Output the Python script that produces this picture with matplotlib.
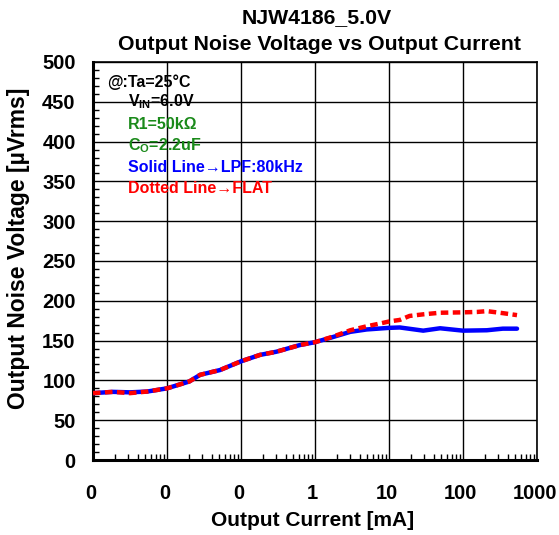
import matplotlib
matplotlib.use("Agg")
import matplotlib.pyplot as plt
import matplotlib.transforms as mtransforms
from matplotlib.ticker import FixedLocator, FixedFormatter, LogLocator, MultipleLocator, NullFormatter

plt.rcParams['font.family'] = ['Liberation Sans', 'DejaVu Sans']
plt.rcParams['font.weight'] = 'bold'
plt.rcParams['mathtext.fontset'] = 'custom'
plt.rcParams['mathtext.bf'] = 'Liberation Sans:bold'
plt.rcParams['mathtext.rm'] = 'Liberation Sans:bold'

# output current [mA]
lpf_current = [0.001, 0.00186, 0.00316, 0.0054, 0.01, 0.02, 0.028, 0.052, 0.1, 0.18,
               0.3, 0.63, 1.0, 1.75, 3.0, 5.0, 10, 14, 29, 49, 100, 210, 345, 537]
# noise with LPF 80kHz [uVrms]
lpf_noise = [84, 85.6, 85, 86, 90, 98.6, 107, 113, 124, 132,
             136, 144.5, 148, 154.5, 161, 164, 166, 166.5, 162.5, 165.5, 162.5, 163, 165, 165]

flat_current = [0.001, 0.00186, 0.00316, 0.0054, 0.01, 0.02, 0.028, 0.052, 0.1, 0.18,
                0.3, 0.63, 1.0, 1.75, 3.0, 5.0, 7.6, 10, 14, 19, 29, 49, 100, 155, 210, 345, 537]
# noise FLAT [uVrms]
flat_noise = [84, 85.6, 84, 86, 90, 98.6, 107, 113, 124, 132,
              136, 144.5, 148, 155, 163, 168, 171.5, 174, 176, 181, 183, 185, 185.5, 186, 187, 184.5, 182]

x_ticks = [0.001, 0.01, 0.1, 1, 10, 100, 1000]
x_tick_labels = ["0", "0", "0", "1", "10", "100", "1000"]

W, H = 559, 535
fig = plt.figure(figsize=(W / 100, H / 100), dpi=100)
ax = fig.add_axes([93 / W, 1 - 460 / H, 444 / W, 398 / H])

ax.plot(lpf_current, lpf_noise, color='#0000ff', lw=3.2, solid_capstyle='round', zorder=3)
ax.plot(flat_current, flat_noise, color='#ff0000', lw=3.2, linestyle=(0, (1.7, 1.0)), zorder=4)

ax.set_xscale('log')
ax.set_xlim(0.001, 1000)
ax.set_ylim(0, 500)
ax.xaxis.set_major_locator(FixedLocator(x_ticks))
ax.xaxis.set_major_formatter(FixedFormatter(x_tick_labels))
ax.xaxis.set_minor_locator(LogLocator(base=10, subs=range(2, 10)))
ax.xaxis.set_minor_formatter(NullFormatter())
ax.yaxis.set_major_locator(MultipleLocator(50))
ax.yaxis.set_minor_locator(MultipleLocator(10))

ax.grid(True, which='major', color='black', lw=1.0)
ax.tick_params(which='major', length=0, labelsize=14.5)
ax.tick_params(axis='y', which='major', pad=12.5)
ax.tick_params(axis='x', which='major', pad=17)
ax.tick_params(which='minor', direction='in', length=4, width=1, top=False, right=False)
shift = mtransforms.ScaledTranslation(-2.5 / 100, 0, fig.dpi_scale_trans)
for lab in ax.get_xticklabels():
    lab.set_fontweight('bold')
    lab.set_transform(lab.get_transform() + shift)
for lab in ax.get_yticklabels():
    lab.set_fontweight('bold')

ax.spines['left'].set_linewidth(2.2)
ax.spines['bottom'].set_linewidth(2.2)
ax.spines['top'].set_linewidth(1.2)
ax.spines['right'].set_linewidth(1.2)

fig.text(313 / W, 1 - 521 / H, "Output Current [mA]", fontsize=15, fontweight='bold',
         ha='center', va='center')
fig.text(19 / W, 1 - 248 / H, "Output Noise Voltage [µVrms]", fontsize=16.5, fontweight='bold',
         ha='center', va='center', rotation=90)
fig.text(317 / W, 1 - 18 / H, "NJW4186_5.0V", fontsize=15.3, fontweight='bold',
         ha='center', va='center')
fig.text(319 / W, 1 - 45 / H, "Output Noise Voltage vs Output Current", fontsize=15.3,
         fontweight='bold', ha='center', va='center')

ann = [
    ("@:Ta=25°C", 0.0315, 0.950, 'black'),
    (r"V$_\mathbf{IN}$=6.0V", 0.0788, 0.900, 'black'),
    ("R1=50kΩ", 0.0788, 0.842, '#1a8a1a'),
    (r"C$_\mathbf{O}$=2.2uF", 0.0788, 0.791, '#1a8a1a'),
    ("Solid Line→LPF:80kHz", 0.0788, 0.734, '#0000ff'),
    ("Dotted Line→FLAT", 0.0788, 0.683, '#ff0000'),
]
for txt, tx, ty, col in ann:
    ax.text(tx, ty, txt, transform=ax.transAxes, fontsize=11.5, fontweight='bold',
            color=col, va='center', ha='left', zorder=5)

fig.savefig("out.png", dpi=100)
